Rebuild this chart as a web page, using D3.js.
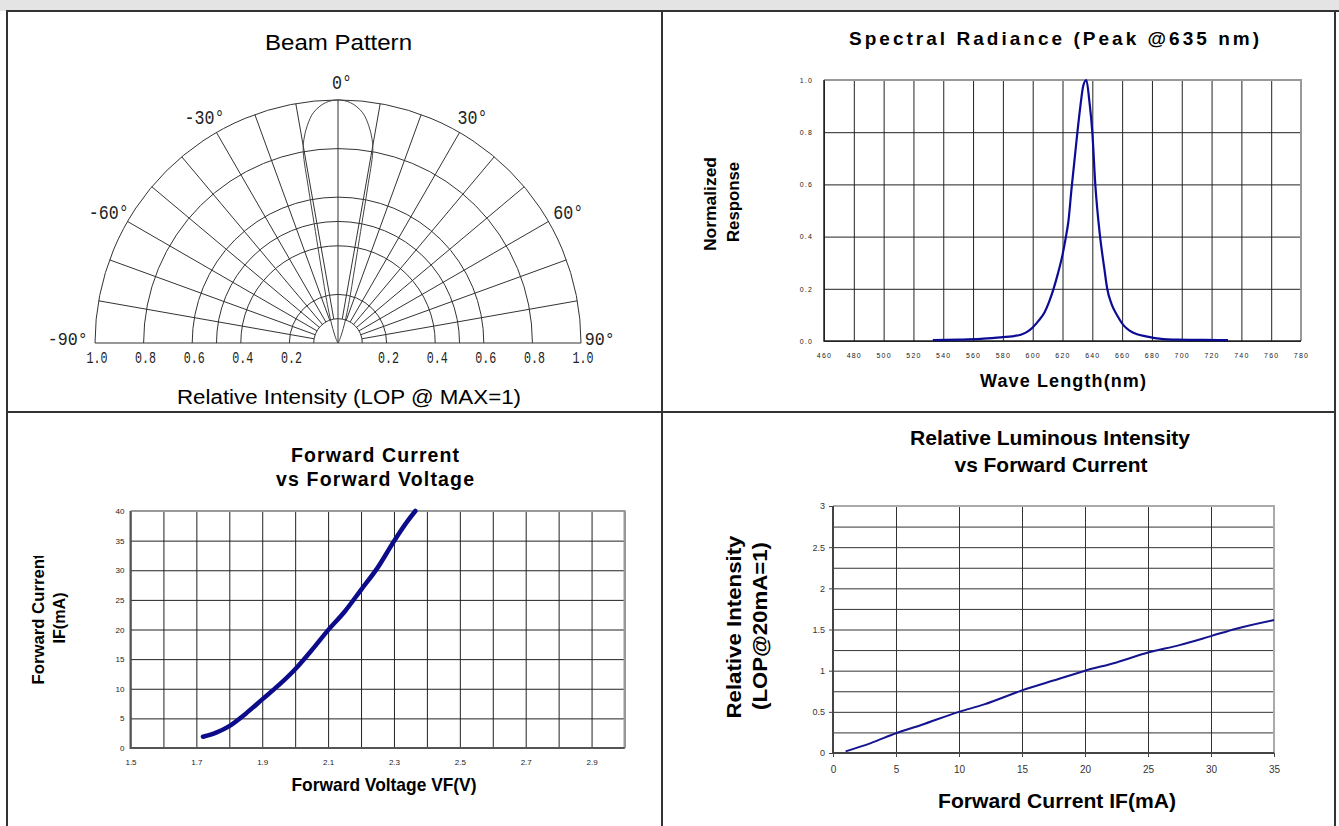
<!DOCTYPE html>
<html>
<head>
<meta charset="utf-8">
<script src="https://cdn.jsdelivr.net/npm/d3@7"></script>
<style>
  body { margin: 0; background: #fff; }
  svg { display: block; font-family: "Liberation Sans", Arial, sans-serif; }
</style>
</head>
<body>
<script>
// ---------- data ----------

// beam pattern: half angle (deg) -> relative intensity, mirrored for negative angles
const beamAngles    = [0, 3, 6, 8, 9.5, 10.3, 10.8, 11.3, 12, 13, 14.5, 16.5, 18.5, 22, 28, 35];
const beamIntensity = [1, 0.99, 0.955, 0.905, 0.85, 0.8, 0.65, 0.5, 0.38, 0.28, 0.2, 0.13, 0.087, 0.04, 0.01, 0];
const beamRings     = [0.1, 0.2, 0.4, 0.5, 0.6, 0.8, 1.0];
const beamSpokes    = [-80, -70, -60, -50, -40, -30, -20, -10, 10, 20, 30, 40, 50, 60, 70, 80];
const beamTicks     = [0.2, 0.4, 0.6, 0.8, 1.0];
const beamAngleLabels = [-60, -30, 0, 30, 60];
const beamEndLabels   = [-90, 90];

// spectral radiance
const specWave = [533, 550, 565, 580, 586, 592, 597, 600, 604, 608, 611, 614, 617, 620, 622, 624, 626, 628, 630, 632, 634, 636, 638, 640, 642, 645, 648, 650, 653, 657, 661, 665, 670, 676, 685, 697, 715, 731];
const specResp = [0.003, 0.005, 0.008, 0.015, 0.018, 0.024, 0.038, 0.052, 0.078, 0.11, 0.15, 0.2, 0.26, 0.33, 0.39, 0.46, 0.58, 0.69, 0.8, 0.9, 0.98, 1.0, 0.92, 0.8, 0.6, 0.41, 0.28, 0.2, 0.14, 0.095, 0.06, 0.04, 0.026, 0.018, 0.009, 0.005, 0.004, 0.003];
const specXTicks = d3.range(460, 781, 20);
const specYTicks = [0, 0.2, 0.4, 0.6, 0.8, 1.0];

// forward current vs forward voltage
const fvVolt = [1.72, 1.76, 1.80, 1.85, 1.90, 1.95, 2.00, 2.05, 2.10, 2.15, 2.20, 2.25, 2.30, 2.34, 2.365];
const fvCurr = [1.9, 2.6, 3.7, 5.8, 8.2, 10.6, 13.3, 16.5, 19.9, 23.0, 26.7, 30.4, 34.9, 38.2, 40];
const fvXGrid   = d3.range(15, 31).map(d => d / 10);
const fvXLabels = [1.5, 1.7, 1.9, 2.1, 2.3, 2.5, 2.7, 2.9];
const fvYTicks  = [0, 5, 10, 15, 20, 25, 30, 35, 40];

// relative luminous intensity vs forward current
const liCurr = [1, 3, 5, 7, 10, 12, 15, 17.5, 20, 22.5, 25, 27.5, 30, 32, 35];
const liRel  = [0.02, 0.12, 0.24, 0.34, 0.5, 0.59, 0.76, 0.88, 1.0, 1.1, 1.22, 1.31, 1.42, 1.51, 1.615];
const liXTicks  = [0, 5, 10, 15, 20, 25, 30, 35];
const liYGrid   = d3.range(0, 13).map(d => d * 0.25);
const liYLabels = [0, 0.5, 1, 1.5, 2, 2.5, 3];

// ---------- page ----------
const W = 1339, H = 826;
const svg = d3.select("body").append("svg").attr("width", W).attr("height", H);

function label(g, txt, x, y, o) {
    const t = g.append("text")
        .attr("x", x).attr("y", y)
        .attr("text-anchor", o.anchor || "middle")
        .attr("font-size", o.size)
        .attr("font-weight", o.weight || "normal")
        .attr("fill", o.fill || "#000")
        .text(txt);
    if (o.family) t.attr("font-family", o.family);
    if (o.len) t.attr("textLength", o.len).attr("lengthAdjust", o.adjust || "spacingAndGlyphs");
    if (o.rotate) t.attr("transform", `rotate(-90 ${x} ${y})`);
    return t;
}

// frame
svg.append("rect").attr("x", 0).attr("y", 0).attr("width", W).attr("height", 11).attr("fill", "#e4e4e4");
const frame = svg.append("g").attr("stroke", "#333").attr("stroke-width", 2);
frame.append("line").attr("x1", 6).attr("x2", W).attr("y1", 11).attr("y2", 11);
frame.append("line").attr("x1", 7).attr("x2", 7).attr("y1", 11).attr("y2", H);
frame.append("line").attr("x1", 662).attr("x2", 662).attr("y1", 11).attr("y2", H);
frame.append("line").attr("x1", 1335).attr("x2", 1335).attr("y1", 11).attr("y2", H);
frame.append("line").attr("x1", 7).attr("x2", 1335).attr("y1", 412).attr("y2", 412);

// ---------- Beam Pattern ----------
{
    const cx = 338, cy = 343;
    const r = d3.scaleLinear().domain([0, 1]).range([0, 243]);
    const g = svg.append("g").attr("transform", `translate(${cx},${cy})`);
    const grid = g.append("g").attr("fill", "none").attr("stroke", "#333").attr("stroke-width", 1);

    beamRings.forEach(v => {
        const p = d3.path();
        p.arc(0, 0, r(v), Math.PI, 2 * Math.PI);
        grid.append("path").attr("d", p.toString());
    });
    const rad = a => a * Math.PI / 180;
    beamSpokes.forEach(a => {
        grid.append("line")
            .attr("x1", r(0.1) * Math.sin(rad(a))).attr("y1", -r(0.1) * Math.cos(rad(a)))
            .attr("x2", r(1) * Math.sin(rad(a))).attr("y2", -r(1) * Math.cos(rad(a)));
    });
    grid.append("line").attr("x1", 0).attr("y1", 0).attr("x2", 0).attr("y2", -r(1));
    grid.append("line").attr("x1", -r(1)).attr("y1", 0).attr("x2", r(1)).attr("y2", 0);

    // lobe
    const half = beamAngles.map((a, i) => [a, beamIntensity[i]]);
    const lobe = [...half.slice(1).reverse().map(d => [-d[0], d[1]]), ...half];
    g.append("path")
        .attr("d", d3.lineRadial()
            .angle(d => rad(d[0]))
            .radius(d => r(d[1]))
            .curve(d3.curveCatmullRom.alpha(0.5))(lobe))
        .attr("fill", "none").attr("stroke", "#444").attr("stroke-width", 1);

    // radius labels
    const mono = '"Liberation Mono", "DejaVu Sans Mono", monospace';
    [-1, 1].forEach(s => beamTicks.forEach(v => {
        label(g, v.toFixed(1), s * r(v) + 2, 20, { size: 16, family: mono, len: 21, fill: "#222" });
    }));
    // angle labels
    beamAngleLabels.forEach(a => {
        const rr = r(1.075);
        const t = `${a}°`;
        const shift = a < 0 ? -3 : 4;
        label(g, t, rr * Math.sin(rad(a)) + shift, -rr * Math.cos(rad(a)) + 7, { size: 21, family: mono, len: t.length * 10, fill: "#222" });
    });
    beamEndLabels.forEach(a => {
        const t = `${a}°`;
        label(g, t, a < 0 ? -r(1.03) : r(1.015), 2,
            { size: 19, family: mono, len: t.length * 10, fill: "#222", anchor: a < 0 ? "end" : "start" });
    });

    label(svg, "Beam Pattern", 338.5, 50, { size: 22, len: 147 });
    label(svg, "Relative Intensity (LOP @ MAX=1)", 349, 404, { size: 20, len: 344 });
}

// ---------- Spectral Radiance ----------
{
    const x = d3.scaleLinear().domain([460, 780]).range([824, 1301]);
    const y = d3.scaleLinear().domain([0, 1]).range([341, 80]);
    const g = svg.append("g");

    const gx = g.append("g").attr("transform", `translate(0,${y(0)})`)
        .call(d3.axisBottom(x).tickValues(specXTicks).tickSize(-(y(0) - y(1))).tickPadding(12.5).tickFormat(d3.format("d")));
    const gy = g.append("g").attr("transform", `translate(${x(460)},0)`)
        .call(d3.axisLeft(y).tickValues(specYTicks).tickSize(-(x(780) - x(460))).tickPadding(11).tickFormat(d3.format(".1f")));
    [gx, gy].forEach(a => {
        a.select(".domain").remove();
        a.selectAll(".tick line").attr("stroke", "#222").attr("stroke-width", 1);
        a.selectAll(".tick text").attr("font-size", 7).attr("fill", "#222").attr("letter-spacing", 1.2)
            .attr("font-family", '"Liberation Sans", Arial, sans-serif');
    });
    g.append("path").attr("d", `M${x(460)},${y(1)}H${x(780)}V${y(0)}`)
        .attr("fill", "none").attr("stroke", "#999").attr("stroke-width", 2);
    g.append("path").attr("d", `M${x(460)},${y(1)}V${y(0)}H${x(780)}`)
        .attr("fill", "none").attr("stroke", "#222").attr("stroke-width", 1.5);

    g.append("path")
        .attr("d", d3.line().x((d, i) => x(specWave[i])).y(d => y(d)).curve(d3.curveMonotoneX)(specResp))
        .attr("fill", "none").attr("stroke", "#0b0b96").attr("stroke-width", 2.2);

    label(svg, "Spectral Radiance (Peak @635 nm)", 1054, 45, { size: 19, weight: "bold", len: 410, adjust: "spacing" });
    label(svg, "Normalized", 716, 204, { size: 17, weight: "bold", len: 94, rotate: true });
    label(svg, "Response", 739, 202, { size: 17, weight: "bold", len: 80, rotate: true });
    label(svg, "Wave Length(nm)", 1063, 387, { size: 18, weight: "bold", len: 166, adjust: "spacing" });
}

// ---------- Forward Current vs Forward Voltage ----------
{
    const x = d3.scaleLinear().domain([1.5, 3.0]).range([130.5, 624.5]);
    const y = d3.scaleLinear().domain([0, 40]).range([748, 511]);
    const g = svg.append("g");

    const gx = g.append("g").attr("transform", `translate(0,${y(0)})`)
        .call(d3.axisBottom(x).tickValues(fvXGrid).tickSize(-(y(0) - y(40))).tickPadding(11)
            .tickFormat(d => fvXLabels.some(v => Math.abs(v - d) < 1e-6) ? d3.format(".1f")(d) : ""));
    const gy = g.append("g").attr("transform", `translate(${x(1.5)},0)`)
        .call(d3.axisLeft(y).tickValues(fvYTicks).tickSize(-(x(3) - x(1.5))).tickPadding(6));
    [gx, gy].forEach(a => {
        a.select(".domain").remove();
        a.selectAll(".tick line").attr("stroke", "#222").attr("stroke-width", 1);
        a.selectAll(".tick text").attr("font-size", 8).attr("fill", "#222")
            .attr("font-family", '"Liberation Sans", Arial, sans-serif');
    });
    g.append("path").attr("d", `M${x(1.5)},${y(40)}H${x(3)}V${y(0)}`)
        .attr("fill", "none").attr("stroke", "#999").attr("stroke-width", 2);
    g.append("path").attr("d", `M${x(1.5)},${y(40)}V${y(0)}H${x(3)}`)
        .attr("fill", "none").attr("stroke", "#555").attr("stroke-width", 2);

    g.append("path")
        .attr("d", d3.line().x((d, i) => x(fvVolt[i])).y(d => y(d)).curve(d3.curveMonotoneX)(fvCurr))
        .attr("fill", "none").attr("stroke", "#0c0c8a").attr("stroke-width", 4.5).attr("stroke-linecap", "round");

    label(svg, "Forward Current", 375, 461.5, { size: 19.5, weight: "bold", len: 168, adjust: "spacing" });
    label(svg, "vs Forward Voltage", 375, 486, { size: 19.5, weight: "bold", len: 198, adjust: "spacing" });

    svg.append("clipPath").attr("id", "ylabclip")
        .append("rect").attr("x", 20).attr("y", 556).attr("width", 60).attr("height", 200);
    label(svg.append("g").attr("clip-path", "url(#ylabclip)"), "Forward Current", 44, 619, { size: 16.5, weight: "bold", len: 131, rotate: true });
    label(svg, "IF(mA)", 65, 618, { size: 16.5, weight: "bold", len: 51, rotate: true });
    label(svg, "Forward Voltage VF(V)", 384, 791, { size: 19, weight: "bold", len: 185 });
}

// ---------- Relative Luminous Intensity vs Forward Current ----------
{
    const x = d3.scaleLinear().domain([0, 35]).range([833, 1274]);
    const y = d3.scaleLinear().domain([0, 3]).range([753, 506]);
    const g = svg.append("g");

    const gx = g.append("g").attr("transform", `translate(0,${y(0)})`)
        .call(d3.axisBottom(x).tickValues(liXTicks).tickSize(-(y(0) - y(3))).tickPadding(13));
    const gy = g.append("g").attr("transform", `translate(${x(0)},0)`)
        .call(d3.axisLeft(y).tickValues(liYGrid).tickSize(-(x(35) - x(0))).tickPadding(8)
            .tickFormat(d => liYLabels.includes(d) ? d3.format("")(d) : ""));
    [gx, gy].forEach(a => {
        a.select(".domain").remove();
        a.selectAll(".tick line").attr("stroke", "#333").attr("stroke-width", 1);
        a.selectAll(".tick text").attr("fill", "#333")
            .attr("font-family", '"Liberation Sans", Arial, sans-serif');
    });
    gx.selectAll(".tick text").attr("font-size", 10);
    gy.selectAll(".tick text").attr("font-size", 9);
    // small outside ticks
    g.append("g").attr("transform", `translate(0,${y(0)})`)
        .call(d3.axisBottom(x).tickValues(liXTicks).tickSize(4).tickFormat(""))
        .call(a => a.select(".domain").remove())
        .selectAll("line").attr("stroke", "#444");
    g.append("g").attr("transform", `translate(${x(0)},0)`)
        .call(d3.axisLeft(y).tickValues(liYLabels).tickSize(4).tickFormat(""))
        .call(a => a.select(".domain").remove())
        .selectAll("line").attr("stroke", "#444");

    g.append("path").attr("d", `M${x(0)},${y(3)}H${x(35)}V${y(0)}`)
        .attr("fill", "none").attr("stroke", "#aaa").attr("stroke-width", 2);
    g.append("path").attr("d", `M${x(0)},${y(3)}V${y(0)}H${x(35)}`)
        .attr("fill", "none").attr("stroke", "#444").attr("stroke-width", 2);

    g.append("path")
        .attr("d", d3.line().x((d, i) => x(liCurr[i])).y(d => y(d)).curve(d3.curveMonotoneX)(liRel))
        .attr("fill", "none").attr("stroke", "#14148f").attr("stroke-width", 2);

    label(svg, "Relative Luminous Intensity", 1050, 444.5, { size: 21, weight: "bold", len: 280 });
    label(svg, "vs Forward Current", 1051, 472, { size: 21, weight: "bold", len: 193 });
    label(svg, "Relative Intensity", 741, 627, { size: 20, weight: "bold", len: 183, rotate: true });
    label(svg, "(LOP@20mA=1)", 767, 626, { size: 20, weight: "bold", len: 168, rotate: true });
    label(svg, "Forward Current IF(mA)", 1057, 808, { size: 21, weight: "bold", len: 238 });
}
</script>
</body>
</html>
